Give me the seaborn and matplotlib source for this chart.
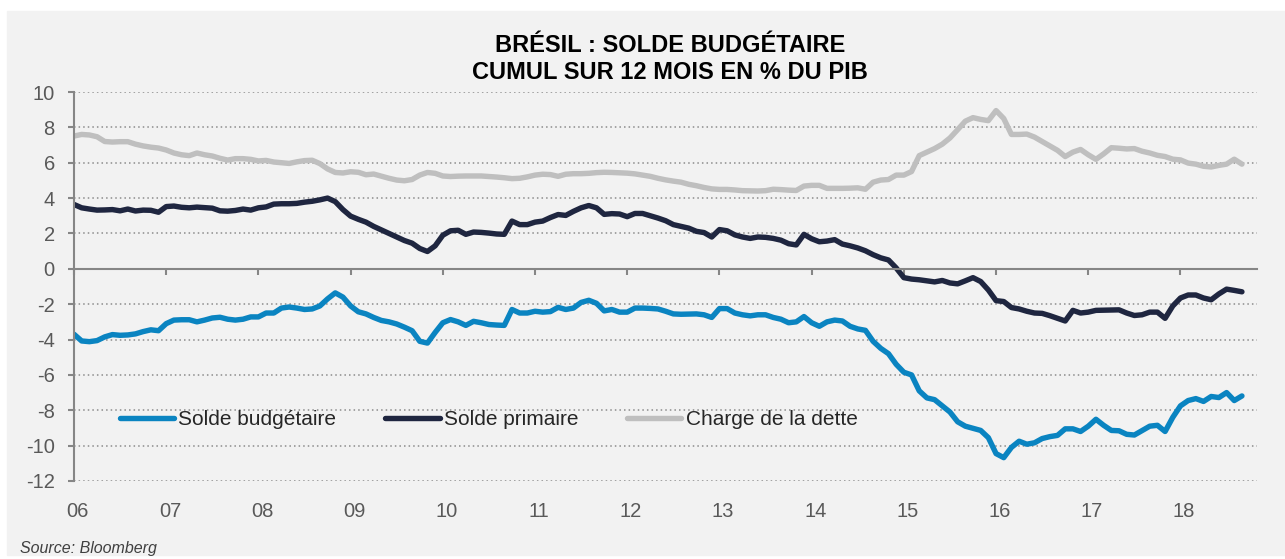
import numpy as np
import pandas as pd
import matplotlib
matplotlib.use("Agg")
import matplotlib.pyplot as plt
import seaborn as sns
from matplotlib.patches import Rectangle

# ==========================================
# Données mensuelles, janv. 2006 -> sept. 2018
# ==========================================
solde_budgetaire = [
    -3.7, -4.08, -4.12, -4.06, -3.85, -3.72, -3.76, -3.74, -3.68, -3.55, -3.45, -3.5,
    -3.1, -2.9, -2.88, -2.88, -3.0, -2.9, -2.78, -2.74, -2.85, -2.9, -2.85, -2.72,
    -2.72, -2.5, -2.5, -2.22, -2.16, -2.22, -2.3, -2.27, -2.1, -1.7, -1.36, -1.6,
    -2.1, -2.43, -2.55, -2.75, -2.92, -3.0, -3.12, -3.3, -3.5, -4.1, -4.2, -3.6,
    -3.05, -2.87, -3.0, -3.2, -2.97, -3.05, -3.15, -3.18, -3.2, -2.3, -2.5, -2.5,
    -2.4, -2.45, -2.42, -2.18, -2.3, -2.22, -1.9, -1.78, -1.95, -2.38, -2.3, -2.45,
    -2.45, -2.22, -2.22, -2.24, -2.27, -2.4, -2.55, -2.57, -2.56, -2.55, -2.6, -2.75,
    -2.25, -2.25, -2.5, -2.6, -2.66, -2.6, -2.6, -2.75, -2.85, -3.05, -3.0, -2.7,
    -3.05, -3.25, -3.0, -2.9, -2.95, -3.25, -3.4, -3.48, -4.1, -4.5, -4.8, -5.4,
    -5.85, -6.0, -6.9, -7.3, -7.4, -7.75, -8.1, -8.65, -8.9, -9.02, -9.14, -9.55,
    -10.45, -10.68, -10.1, -9.75, -9.92, -9.84, -9.6, -9.49, -9.42, -9.05, -9.05, -9.2,
    -8.9, -8.51, -8.85, -9.14, -9.16, -9.36, -9.4, -9.15, -8.9, -8.85, -9.2, -8.4,
    -7.75, -7.45, -7.34, -7.5, -7.22, -7.28, -7.0, -7.45, -7.19,
]

solde_primaire = [
    3.64, 3.45, 3.38, 3.32, 3.33, 3.35, 3.28, 3.38, 3.27, 3.32, 3.31, 3.2,
    3.52, 3.55, 3.48, 3.45, 3.49, 3.46, 3.43, 3.28, 3.26, 3.3, 3.38, 3.32,
    3.45, 3.5, 3.66, 3.68, 3.68, 3.7, 3.77, 3.82, 3.9, 4.0, 3.8, 3.35,
    2.98, 2.8, 2.64, 2.4, 2.2, 2.0, 1.8, 1.6, 1.45, 1.15, 0.98, 1.3,
    1.9, 2.15, 2.18, 1.95, 2.08, 2.06, 2.02, 1.97, 1.95, 2.7, 2.5, 2.5,
    2.64, 2.7, 2.9, 3.07, 3.02, 3.25, 3.45, 3.58, 3.45, 3.08, 3.12, 3.1,
    2.95, 3.13, 3.13, 3.0, 2.87, 2.72, 2.5, 2.4, 2.3, 2.12, 2.05, 1.8,
    2.22, 2.15, 1.92, 1.8, 1.72, 1.8, 1.78, 1.72, 1.62, 1.42, 1.35, 1.95,
    1.7, 1.53, 1.57, 1.65, 1.4, 1.3, 1.18, 1.02, 0.8, 0.62, 0.5, 0.05,
    -0.5, -0.58, -0.62, -0.68, -0.74, -0.66, -0.8, -0.85, -0.68, -0.5, -0.72, -1.2,
    -1.8, -1.85, -2.19, -2.27, -2.4, -2.5, -2.52, -2.65, -2.8, -2.95, -2.35, -2.5,
    -2.45, -2.35, -2.34, -2.33, -2.32, -2.5, -2.64, -2.6, -2.45, -2.45, -2.8, -2.1,
    -1.65, -1.48, -1.48, -1.65, -1.75, -1.42, -1.15, -1.22, -1.3,
]

charge_dette = [
    7.51, 7.6, 7.57, 7.47, 7.2, 7.17, 7.19, 7.19, 7.05, 6.95, 6.88, 6.83,
    6.72, 6.55, 6.45, 6.4, 6.55, 6.45, 6.38, 6.25, 6.15, 6.23, 6.23, 6.19,
    6.1, 6.13, 6.04, 6.0, 5.96, 6.05, 6.12, 6.14, 5.95, 5.65, 5.45, 5.42,
    5.49, 5.46, 5.32, 5.36, 5.24, 5.12, 5.02, 4.98, 5.05, 5.3, 5.45, 5.4,
    5.25, 5.22, 5.24, 5.25, 5.25, 5.25, 5.22, 5.19, 5.15, 5.1, 5.12, 5.2,
    5.3, 5.35, 5.33, 5.23, 5.35, 5.38, 5.38, 5.4, 5.44, 5.46, 5.45, 5.43,
    5.41, 5.37, 5.3, 5.23, 5.12, 5.03, 4.96, 4.9, 4.78, 4.7, 4.6, 4.52,
    4.49, 4.49, 4.46, 4.42, 4.41, 4.4, 4.42, 4.5, 4.48, 4.45, 4.43, 4.68,
    4.72, 4.72, 4.55, 4.55, 4.55, 4.56, 4.58, 4.5, 4.9, 5.02, 5.05, 5.3,
    5.3, 5.5, 6.4, 6.6, 6.8, 7.05, 7.4, 7.87, 8.35, 8.55, 8.45, 8.38,
    8.95, 8.5, 7.6, 7.6, 7.62, 7.45, 7.2, 6.95, 6.7, 6.35, 6.6, 6.75,
    6.45, 6.19, 6.5, 6.85, 6.82, 6.78, 6.8, 6.65, 6.55, 6.42, 6.35, 6.2,
    6.16, 5.98, 5.92, 5.8, 5.76, 5.85, 5.92, 6.2, 5.92,
]

series = ["Solde budgétaire", "Solde primaire", "Charge de la dette"]
couleurs = ["#0a84c1", "#1f2640", "#bfbfbf"]
annees = list(range(2006, 2019))
annee_labels = ["06", "07", "08", "09", "10", "11", "12", "13", "14", "15", "16", "17", "18"]
y_ticks = list(range(-12, 11, 2))

mois = 2006 + np.arange(len(solde_budgetaire)) / 12
df = pd.DataFrame({
    "date": np.tile(mois, 3),
    "valeur": solde_budgetaire + solde_primaire + charge_dette,
    "serie": np.repeat(series, len(mois)),
})

# ==========================================
# Style
# ==========================================
sns.set_style("white")
plt.rcParams["font.family"] = ["Liberation Sans", "DejaVu Sans"]
plt.rcParams["axes.unicode_minus"] = False

gris_axe = "#868686"
gris_texte = "#595959"
fond = "#f2f2f2"
epaisseur = 3.9

fig = plt.figure(figsize=(12.85, 5.59), dpi=100, facecolor="white")
# panneau gris derrière le graphique
fig.patches.append(Rectangle((7 / 1285, 4 / 559), 1 - 7 / 1285, 1 - 15 / 559,
                             transform=fig.transFigure, color=fond, zorder=-10))

ax = fig.add_axes([74 / 1285, 1 - 481 / 559, 1183 / 1285, 389 / 559])
ax.set_facecolor(fond)
ax.set_zorder(1)

sns.lineplot(data=df, x="date", y="valeur", hue="serie", hue_order=series,
             palette=couleurs, linewidth=epaisseur, errorbar=None, ax=ax)

ax.set_xlim(2006, 2018.83)
ax.set_ylim(-12, 10)
ax.set_yticks(y_ticks)
ax.set_xticks(annees)
ax.set_xlabel("")
ax.set_ylabel("")

ax.yaxis.grid(True, linestyle=(0, (1, 2)), color="#8c8c8c", linewidth=1.1)
ax.xaxis.grid(False)

for s in ["top", "right"]:
    ax.spines[s].set_visible(False)
ax.spines["left"].set_color(gris_axe)
ax.spines["left"].set_linewidth(1.5)
# axe des x sur la ligne du zéro
ax.spines["bottom"].set_position(("data", 0))
ax.spines["bottom"].set_color(gris_axe)
ax.spines["bottom"].set_linewidth(1.5)

ax.tick_params(axis="y", direction="out", length=4.3, width=1.5, color=gris_axe,
               labelsize=14.5, labelcolor=gris_texte, pad=9.5, left=True)
ax.tick_params(axis="x", direction="out", length=4.3, width=1.5, color=gris_axe,
               labelbottom=False, bottom=True)

# étiquettes des années en bas du graphique (légèrement décalées à droite)
sec = ax.secondary_xaxis("bottom", functions=(lambda x: x - 0.04, lambda x: x + 0.04))
sec.set_xticks(annees, labels=annee_labels)
sec.tick_params(length=0, pad=15, labelsize=14.5, labelcolor=gris_texte)
sec.spines["bottom"].set_visible(False)

# légende
leg = ax.get_legend()
handles = leg.legend_handles
for h in handles:
    h.set_linewidth(epaisseur)
    h.set_solid_capstyle("round")
ax.legend(handles, series, ncol=3, loc="center left", bbox_to_anchor=(0.039, 0.157),
          frameon=False, fontsize=15, handlelength=2.6, handletextpad=0.2,
          columnspacing=2.35, borderaxespad=0, borderpad=0)

fig.text(670 / 1285, 1 - 59.3 / 559,
         "BRÉSIL : SOLDE BUDGÉTAIRE\nCUMUL SUR 12 MOIS EN % DU PIB",
         ha="center", va="center", fontsize=17, fontweight="bold",
         color="black", linespacing=1.2)
fig.text(20 / 1285, 1 - 548 / 559, "Source: Bloomberg", fontstyle="italic",
         fontsize=11.5, color="#404040", va="center")

fig.savefig("out.png", dpi=100, facecolor=fig.get_facecolor())
